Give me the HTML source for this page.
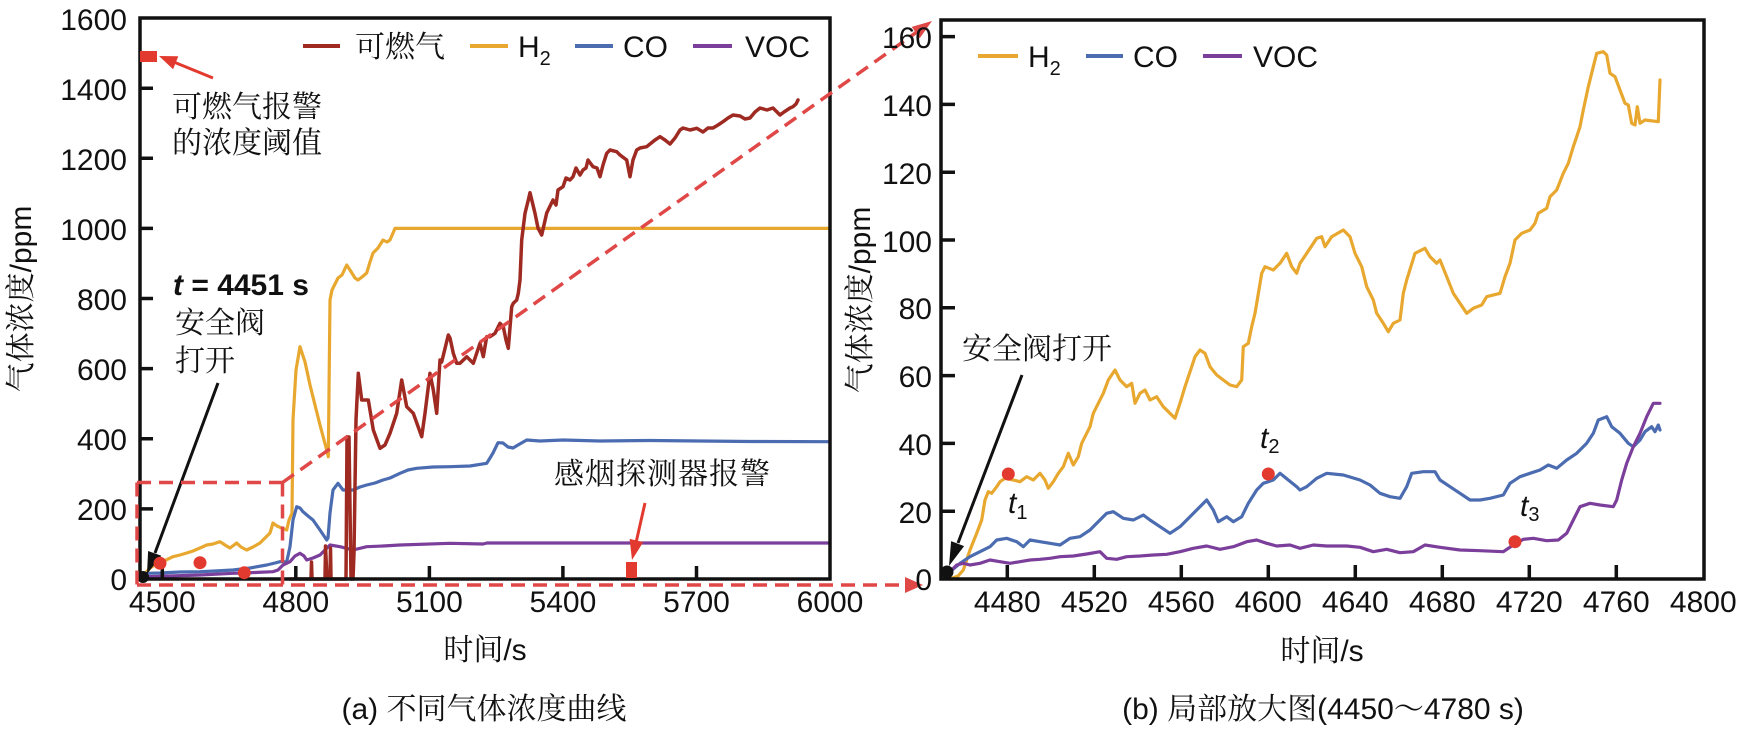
<!DOCTYPE html>
<html><head><meta charset="utf-8"><style>
html,body{margin:0;padding:0;background:#fff;}
svg{display:block;}
text{font-family:"Liberation Sans","Noto Serif CJK SC",serif;fill:#111;}
.cn{font-family:"Liberation Sans","Noto Serif CJK SC",serif;}
</style></head><body>
<svg width="1749" height="729" viewBox="0 0 1749 729" xmlns="http://www.w3.org/2000/svg">
<rect width="1749" height="729" fill="#fff"/>

<!-- ===== LEFT CHART ===== -->
<g fill="none" stroke-linejoin="round" stroke-linecap="round">
<!-- H2 -->
<polyline stroke="#E8A830" stroke-width="3.2" points="140,577 146.7,571.7 150,568 153,566 160,562.7 166,560 173,556.7 180,555 186.7,553 193,551 200,548 206.7,545 213,544 220,541.7 225,545 230,548 236.7,543 241,547 246.7,550 253,547 260,543 265,538 270,533 273,523 277,526 281.7,528 286.7,530 289,520 292,513 293,420 296,370 300,346.7 305,362 310,385 315,405 320,425 326.7,450 328.3,456.7 330,300 332,290 338,278 342,275 346.7,265 350,270 355,278 358,280 362,277 366.7,273 370,262 373,253 378,248 383,240 387,242 390,240 395,228.4 830,228.4"/>
<!-- CO -->
<polyline stroke="#4B6CB0" stroke-width="3.2" points="140,578 146.7,573.3 160,573 180,572 200,571.7 215,571 233,570 250,568 266.7,565 275,563 280,561.7 286.7,561.7 290,546.7 293,520 296.7,506.7 300,508 303,511.7 308,516 313,520 320,530 326.7,540 328,538 330,513 333,490 338,483.3 343,490 348,490 353,490 360,487 366.7,485 375,483 383,480 390,478 400,473.3 408,470 416.7,468.3 433,467 450,466.7 470,466 486.7,463.3 490,458 493,453 498,442.7 503,443 508,447 513,448 518,445 526.7,440 540,441 563,440 600,441 650,440.5 700,441 750,441.5 830,441.7"/>
<!-- VOC -->
<polyline stroke="#7B3F9B" stroke-width="3.2" points="140,578 146.7,576.7 170,576 200,575 233,573.3 255,572.5 273,571.7 278,570 283,565 290,561.7 295,556 300,553.3 304,556 306.7,560 313,558 320,555 325,550 330,545 340,546.7 353,550 366.7,546.7 383,546 400,545 450,543.3 483,544 487,543 830,543"/>
<!-- combustible gas -->
<polyline stroke="#9E2A22" stroke-width="3.5" points="290,579 311,579 311.5,562 312,579 325,579 325.5,546 327,579 330,579 330.5,548 331,579 346,579 347,437 349,437 351,579 353,579 354,553 356,420 358.3,373.3 361.7,400 368.3,400 373.3,430 380,448.3 385,445 390,433.3 396.7,413.3 401.7,380 406.7,406.7 413.3,413.3 421.7,436.7 425,413.3 430,373.3 433.3,390 436.7,413.3 440,360 441.7,362 448.3,335 450,338 453.3,353.3 456.7,363.3 460,363.3 466.7,356.7 470,360 473.3,363.3 480,343.3 483.3,356.7 486.7,336.7 490,336.7 495,333.3 500,323.3 503.3,326.7 506,340 508.3,348.3 511.7,306.7 513.3,303.3 516.7,300 518.3,293.3 520,280 521.7,240 525,213.3 528.3,200 530,192.7 535,213.3 538,228 541.7,235 544,225 546.7,213 553,200 556,205 558,190 563,186.7 566,178 570,180 573,176.7 576,168 580,175 583,170 586,168 588,160 593,166.7 597,168 600,176.7 603,165 606.7,153.3 610,150 616.7,151.7 620,155 626.7,160 630,176.7 633,160 636.7,150 640,148 646.7,146.7 650,144 655,140 660,136.7 665,140 670,144 675,138 680,130 683,128 690,130 696.7,128.3 703,132 708,128 713,128 718,125 723,121.7 728,118 733,115 740,116 745,119 750,118 755,112 760,108 767,110 773,108 776,111 780,115 784,112 787,110 790,108 793,106.7 796,104 798,100"/>
</g>

<!-- left frame -->
<rect x="140" y="18" width="690" height="561" fill="none" stroke="#111" stroke-width="3.5"/>
<path stroke="#111" stroke-width="3.5" fill="none" d="M140,508.9h13M140,438.8h13M140,368.6h13M140,298.5h13M140,228.4h13M140,158.3h13M140,88.2h13M162.3,579v-13M295.8,579v-13M429.4,579v-13M562.9,579v-13M696.5,579v-13"/>
<g font-size="30" text-anchor="end">
<text x="127" y="30">1600</text><text x="127" y="100">1400</text><text x="127" y="170">1200</text><text x="127" y="240">1000</text>
<text x="127" y="310">800</text><text x="127" y="380">600</text><text x="127" y="450">400</text><text x="127" y="520">200</text><text x="127" y="590">0</text>
</g>
<g font-size="30" text-anchor="middle">
<text x="162.3" y="612">4500</text><text x="295.8" y="612">4800</text><text x="429.4" y="612">5100</text><text x="562.9" y="612">5400</text><text x="696.5" y="612">5700</text><text x="830" y="612">6000</text>
<text x="485" y="660">时间/s</text>
<text x="484" y="719">(a) 不同气体浓度曲线</text>
</g>
<text font-size="30" text-anchor="middle" transform="translate(31,299) rotate(-90)">气体浓度/ppm</text>

<!-- left legend -->
<line x1="303" y1="46" x2="340" y2="46" stroke="#9E2A22" stroke-width="4"/>
<text x="355" y="57" font-size="30">可燃气</text>
<line x1="470" y1="46" x2="508" y2="46" stroke="#E8A830" stroke-width="4"/>
<text x="518" y="57" font-size="30">H<tspan font-size="20" dy="8">2</tspan></text>
<line x1="575" y1="46" x2="613" y2="46" stroke="#4B6CB0" stroke-width="4"/>
<text x="623" y="57" font-size="30">CO</text>
<line x1="693" y1="46" x2="732" y2="46" stroke="#7B3F9B" stroke-width="4"/>
<text x="745" y="57" font-size="30">VOC</text>

<!-- left annotations -->
<rect x="140" y="51" width="17" height="11" fill="#E33A2F"/>
<line x1="213" y1="78" x2="175" y2="62.5" stroke="#E33A2F" stroke-width="3"/>
<polygon points="159,56 178.3,56.3 173.1,69.3" fill="#E33A2F"/>
<text x="172" y="117" font-size="30">可燃气报警</text>
<text x="172" y="153" font-size="30">的浓度阈值</text>

<text x="173" y="295" font-size="30" font-weight="bold"><tspan font-style="italic">t</tspan> = 4451 s</text>
<text x="175" y="333" font-size="30">安全阀</text>
<text x="175" y="371" font-size="30">打开</text>
<line x1="218" y1="383" x2="155" y2="553" stroke="#111" stroke-width="3"/>
<polygon points="147,574 161.3,555.8 148.1,551" fill="#111"/>

<text x="554" y="484" font-size="30" letter-spacing="1">感烟探测器报警</text>
<line x1="645" y1="503" x2="636.4" y2="541" stroke="#E33A2F" stroke-width="3"/>
<polygon points="632,560 643.2,542.1 629.6,538.9" fill="#E33A2F"/>
<rect x="626" y="562" width="11" height="16" fill="#E33A2F"/>

<circle cx="160" cy="563.3" r="6.5" fill="#E33A2F"/>
<circle cx="200" cy="562.7" r="6.5" fill="#E33A2F"/>
<circle cx="244.3" cy="572.7" r="6.5" fill="#E33A2F"/>
<circle cx="143" cy="577" r="6" fill="#111"/>

<!-- dashed zoom indicators -->
<g fill="none" stroke="#E04848" stroke-width="3.5" stroke-dasharray="14 8">
<path d="M137,482.5H282.5"/>
<path d="M137,482.5V585"/>
<path d="M282.5,482.5V585"/>
<path d="M137,585H906"/>
<path d="M282.5,482.5L916,32.6"/>
</g>
<polygon points="923,585 905,577 905,593" fill="#E04848"/>
<polygon points="932,21 919.7,38.3 911.7,26.9" fill="#E04848"/>

<!-- ===== RIGHT CHART ===== -->
<g fill="none" stroke-linejoin="round" stroke-linecap="round" stroke-width="3.2">
<polyline stroke="#E8A830" points="950,579 958,576 963.3,570 970,550 976.7,533.3 981.7,520 985,500 988.3,491.7 991.7,493.3 996.7,486.7 1000,481.7 1005,478.3 1013.3,480 1020,481.7 1026.7,476.7 1033.3,480 1040,473.3 1045,480 1048.3,488.3 1053.3,481.7 1058.3,473.3 1063.3,466.7 1068.3,453.3 1073.3,465 1078.3,456.7 1081.7,443.3 1090,426.7 1093.3,413.3 1098.3,403.3 1103.3,393.3 1108.3,380 1115,370 1120,380 1126.7,386.7 1131.7,383.3 1135,403.3 1140,393.3 1145,390 1150,400 1156.7,396.7 1163.3,406.7 1170,413.3 1175,418.3 1180,403.3 1185,386.7 1191.7,366.7 1195,356.7 1200,350 1205,353.3 1210,366.7 1216.7,375 1223.3,380 1230,385 1236.7,386.7 1241.7,380 1243.3,346.7 1248.3,343.3 1251.7,326.7 1255,313.3 1256.7,303.3 1261.7,273.3 1265,266.7 1273.3,270 1280,263.3 1286.7,253.3 1291.7,266.7 1296.7,273.3 1300,263.3 1306.7,253.3 1316.7,238.3 1321.7,236.7 1325,246.7 1331.7,236.7 1343.3,230 1350,236.7 1355,253.3 1361.7,266.7 1366.7,286.7 1373.3,300 1376.7,313.3 1383.3,323.3 1388.3,331.7 1393.3,323.3 1400,320 1403.3,293.3 1406.7,280 1415,253.3 1425,248.3 1430,256.7 1436.7,263.3 1440,260 1446.7,276.7 1453.3,293.3 1460,303.3 1466.7,313.3 1473.3,308.3 1481.7,305 1486.7,296.7 1500,293.3 1505,276.7 1510,263.3 1515,240 1521.7,233.3 1530,230 1535,223.3 1538.3,213.3 1546.7,208.3 1550,196.7 1556.7,190 1563.3,173.3 1568.3,163.3 1573.3,146.7 1576.7,136.7 1580,126.7 1583.3,110 1588.3,86.7 1593.3,66.7 1596.7,53.3 1603.3,51.7 1606.7,55 1610,73.3 1615,76.7 1620,90 1625,103.3 1628.3,105 1631.7,123.3 1635,125 1637.3,106.7 1640,123.3 1645,120 1658.3,121.7 1660,80"/>
<polyline stroke="#4B6CB0" points="948.3,573.3 960,563.3 970,556.7 980,551.7 990,546.7 996.7,540 1006.7,538.3 1016.7,541.7 1023.3,546.7 1030,540 1040,541.7 1050,543.3 1060,545 1070,538.3 1080,536.7 1090,530 1096.7,523.3 1106.7,513.3 1113.3,511.7 1123.3,518.3 1133.3,520 1143.3,515 1150,520 1160,526.7 1170,533.3 1180,526.7 1190,516.7 1196.7,510 1206.7,500 1213.3,510 1218.3,521.7 1226.7,516.7 1233.3,521.7 1241.7,516.7 1248.3,503.3 1256.7,490 1263.3,483.3 1273.3,480 1280,473.3 1288.3,480 1296.7,486.7 1300,490 1306.7,486.7 1316.7,478.3 1326.7,473.3 1343.3,475 1360,480 1370,485 1380,493.3 1390,496.7 1400,498.3 1406.7,486.7 1411.7,473.3 1423.3,471.7 1435,471.7 1440,480 1450,486.7 1460,493.3 1470,500 1480,500 1490,498.3 1503.3,495 1510,483.3 1520,476.7 1530,473.3 1540,470 1548.3,465 1556.7,468.3 1566.7,460 1576.7,453.3 1586.7,443.3 1593.3,433.3 1598.3,420 1606.7,416.7 1611.7,426.7 1620,433.3 1628.3,443.3 1633.3,446.7 1640,440 1645,431.7 1651.7,426.7 1655,431.7 1658.3,425 1660,430"/>
<polyline stroke="#7B3F9B" points="948.3,573.3 956.7,565 963.3,563.3 970,565 980,563.3 990,560 1000,561.7 1010,563.3 1020,561.7 1030,560 1040,559.3 1050,558.3 1060,556.7 1073.3,556 1086.7,554 1100,551.7 1106.7,558.3 1116.7,559.3 1126.7,556.7 1140,556 1153.3,555 1166.7,554.3 1180,551.7 1193.3,548.3 1206.7,546 1220,549.3 1233.3,546.7 1246.7,541.7 1256.7,540 1266.7,543.3 1276.7,546 1290,545 1300,548.3 1313.3,545 1326.7,546 1346.7,546 1360,547.3 1373.3,551.7 1386.7,549.3 1400,552.7 1413.3,551.7 1425,545 1440,547.3 1460,550 1480,550.7 1503.3,551.7 1513.3,545 1523.3,539.3 1533.3,538.3 1546.7,540.7 1558.3,540 1566.7,533.3 1573.3,520 1580,506.7 1590,503.3 1600,505 1613.3,506.7 1616.7,500 1621.7,480 1626.7,463.3 1633.3,446.7 1640,433.3 1646.7,416.7 1653.3,403.3 1660,403.3"/>
</g>

<!-- right frame -->
<rect x="941" y="20" width="763" height="559" fill="none" stroke="#111" stroke-width="3.5"/>
<path stroke="#111" stroke-width="3.5" fill="none" d="M941,511.2h14M941,443.4h14M941,375.6h14M941,307.8h14M941,240h14M941,172.2h14M941,104.4h14M941,36.6h14M1007.3,579v-14M1094.3,579v-14M1181.3,579v-14M1268.3,579v-14M1355.3,579v-14M1442.3,579v-14M1529.3,579v-14M1616.3,579v-14"/>
<g font-size="30" text-anchor="end">
<text x="932" y="48">160</text><text x="932" y="116">140</text><text x="932" y="184">120</text><text x="932" y="252">100</text>
<text x="932" y="319">80</text><text x="932" y="387">60</text><text x="932" y="455">40</text><text x="932" y="523">20</text><text x="932" y="590">0</text>
</g>
<g font-size="30" text-anchor="middle">
<text x="1007.3" y="612">4480</text><text x="1094.3" y="612">4520</text><text x="1181.3" y="612">4560</text><text x="1268.3" y="612">4600</text>
<text x="1355.3" y="612">4640</text><text x="1442.3" y="612">4680</text><text x="1529.3" y="612">4720</text><text x="1616.3" y="612">4760</text><text x="1703.3" y="612">4800</text>
<text x="1322" y="661">时间/s</text>
<text x="1323" y="719">(b) 局部放大图(4450～4780 s)</text>
</g>
<text font-size="30" text-anchor="middle" transform="translate(870,300) rotate(-90)">气体浓度/ppm</text>

<!-- right legend -->
<line x1="978" y1="56" x2="1018" y2="56" stroke="#E8A830" stroke-width="4"/>
<text x="1028" y="67" font-size="30">H<tspan font-size="20" dy="8">2</tspan></text>
<line x1="1086" y1="56" x2="1123" y2="56" stroke="#4B6CB0" stroke-width="4"/>
<text x="1133" y="67" font-size="30">CO</text>
<line x1="1203" y1="56" x2="1242" y2="56" stroke="#7B3F9B" stroke-width="4"/>
<text x="1253" y="67" font-size="30">VOC</text>

<!-- right annotations -->
<text x="962" y="359" font-size="30">安全阀打开</text>
<line x1="1022" y1="375" x2="958" y2="543" stroke="#111" stroke-width="3"/>
<polygon points="949,566 964.1,546.1 951.1,541.1" fill="#111"/>
<circle cx="947" cy="572" r="6.5" fill="#111"/>

<circle cx="1008.3" cy="474" r="6.5" fill="#E33A2F"/>
<circle cx="1268.3" cy="474" r="6.5" fill="#E33A2F"/>
<circle cx="1515" cy="541.7" r="6.5" fill="#E33A2F"/>
<text x="1008" y="513" font-size="30" font-style="italic">t<tspan font-size="20" font-style="normal" dy="6">1</tspan></text>
<text x="1260" y="448" font-size="30" font-style="italic">t<tspan font-size="20" font-style="normal" dy="5">2</tspan></text>
<text x="1520" y="516" font-size="30" font-style="italic">t<tspan font-size="20" font-style="normal" dy="5">3</tspan></text>
</svg>
</body></html>
